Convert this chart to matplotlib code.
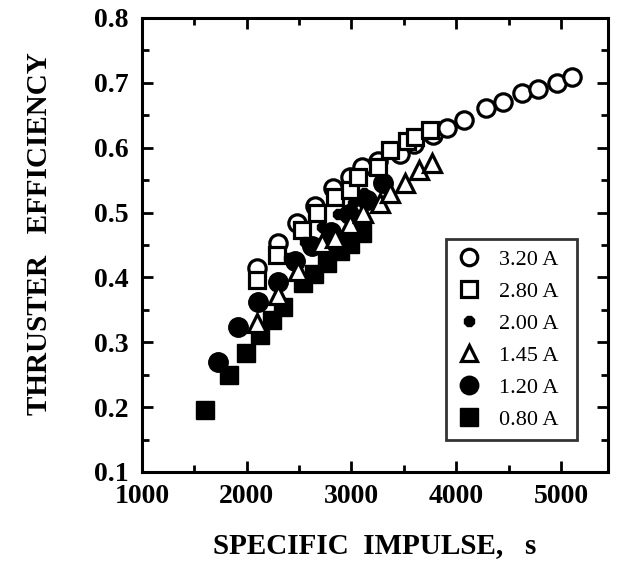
import matplotlib
matplotlib.use("Agg")
import matplotlib.pyplot as plt
from matplotlib.ticker import MultipleLocator

# specific impulse (s) and thruster efficiency per discharge current
isp_320 = [2100, 2300, 2480, 2650, 2820, 2990, 3100, 3250, 3460, 3600, 3780, 3910, 4070,
           4280, 4450, 4630, 4780, 4960, 5110]
eff_320 = [0.415, 0.453, 0.484, 0.510, 0.537, 0.555, 0.570, 0.580, 0.590, 0.606, 0.620,
           0.630, 0.643, 0.661, 0.671, 0.684, 0.690, 0.700, 0.709]
isp_280 = [2100, 2290, 2530, 2670, 2840, 2990, 3060, 3250, 3370, 3530, 3610, 3750]
eff_280 = [0.396, 0.435, 0.473, 0.500, 0.524, 0.535, 0.555, 0.570, 0.596, 0.610, 0.617, 0.627]
isp_200 = [2400, 2560, 2720, 2870, 3010, 3120, 3260]
eff_200 = [0.430, 0.455, 0.478, 0.497, 0.515, 0.530, 0.548]
isp_145 = [2100, 2300, 2490, 2720, 2840, 2990, 3110, 3270, 3370, 3510, 3640, 3770]
eff_145 = [0.330, 0.373, 0.410, 0.453, 0.460, 0.482, 0.500, 0.515, 0.530, 0.546, 0.566, 0.576]
isp_120 = [1730, 1920, 2110, 2300, 2460, 2620, 2800, 2980, 3150, 3300]
eff_120 = [0.270, 0.324, 0.362, 0.393, 0.425, 0.448, 0.470, 0.498, 0.520, 0.545]
isp_080 = [1600, 1830, 1990, 2130, 2240, 2350, 2540, 2640, 2770, 2890, 2990, 3100]
eff_080 = [0.196, 0.250, 0.284, 0.311, 0.334, 0.354, 0.391, 0.405, 0.422, 0.440, 0.452, 0.468]

plt.rcParams["font.family"] = ["Liberation Serif", "DejaVu Serif"]

fig = plt.figure(figsize=(6.21, 5.77), dpi=100)
ax = fig.add_axes([0.2287, 0.182, 0.7505, 0.787])

ax.plot(isp_320, eff_320, "o", ms=12.5, mfc="white", mec="black", mew=2.3, ls="none", label="3.20 A", zorder=3)
ax.plot(isp_280, eff_280, "s", ms=11.5, mfc="white", mec="black", mew=2.3, ls="none", label="2.80 A", zorder=4)
ax.plot(isp_200, eff_200, "8", ms=7.5, mfc="black", mec="black", ls="none", label="2.00 A", zorder=5)
ax.plot(isp_145, eff_145, "^", ms=12.5, mfc="white", mec="black", mew=2.3, ls="none", label="1.45 A", zorder=3)
ax.plot(isp_120, eff_120, "o", ms=14, mfc="black", mec="black", ls="none", label="1.20 A", zorder=2)
ax.plot(isp_080, eff_080, "s", ms=13, mfc="black", mec="black", ls="none", label="0.80 A", zorder=2)

ax.set_xlim(1000, 5450)
ax.set_ylim(0.1, 0.8)
ax.xaxis.set_major_locator(MultipleLocator(1000))
ax.xaxis.set_minor_locator(MultipleLocator(500))
ax.yaxis.set_major_locator(MultipleLocator(0.1))
ax.yaxis.set_minor_locator(MultipleLocator(0.05))
ax.tick_params(which="both", direction="in", top=True, right=True, width=2, labelsize=20)
ax.tick_params(axis="x", pad=9)
ax.tick_params(axis="y", pad=10)
ax.tick_params(which="major", length=8)
ax.tick_params(which="minor", length=5)
for lab in ax.get_xticklabels() + ax.get_yticklabels():
    lab.set_fontweight("bold")
for s in ax.spines.values():
    s.set_linewidth(2.2)

ax.set_xlabel("SPECIFIC  IMPULSE,   s", fontsize=21, fontweight="bold", labelpad=16)
ax.set_ylabel("THRUSTER   EFFICIENCY", fontsize=21, fontweight="bold")
ax.yaxis.set_label_coords(-0.19, 0.525)

leg = ax.legend(loc="lower left", bbox_to_anchor=(0.652, 0.07, 0.281, 0.443), mode="expand",
                borderaxespad=0, fontsize=16, frameon=True, fancybox=False, edgecolor="black",
                labelspacing=0.52, handletextpad=0.75, borderpad=0.45, handlelength=1.2,
                markerscale=0.95)
leg.get_frame().set_linewidth(2)

fig.savefig("out.png", dpi=100)
